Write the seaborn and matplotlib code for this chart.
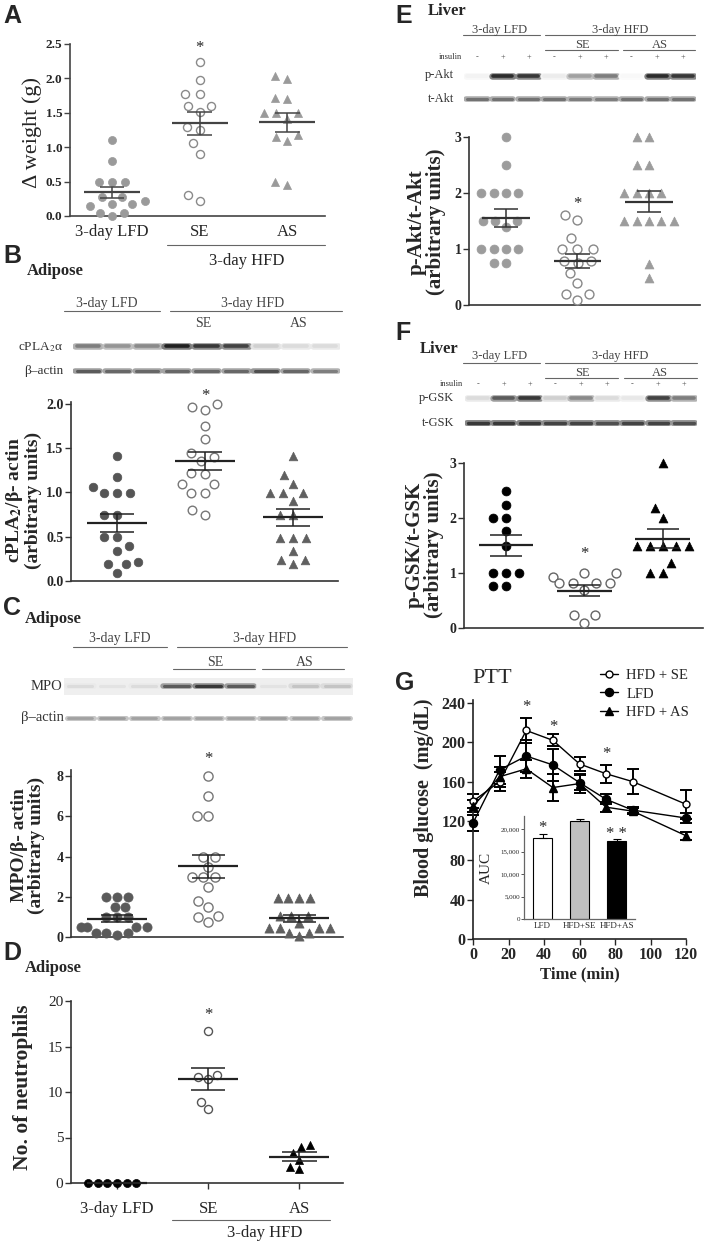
import numpy as np
import pandas as pd
import matplotlib
matplotlib.use('Agg')
import matplotlib.pyplot as plt
from matplotlib.lines import Line2D
from matplotlib.collections import PathCollection
import seaborn as sns

# ---------------- data ----------------
groups = ['LFD', 'SE', 'AS']
cat_labels = ['3-day LFD', 'SE', 'AS']

# A: delta weight (g)
a_lfd = [1.10, 0.80, 0.50, 0.50, 0.50, 0.28, 0.28, 0.22, 0.18, 0.15, 0.18, 0.05, 0.05, 0.00]
a_se = [2.24, 1.98, 1.78, 1.78, 1.60, 1.60, 1.51, 1.30, 1.25, 1.06, 0.90, 0.30, 0.22]
a_as = [2.04, 1.99, 1.71, 1.70, 1.49, 1.49, 1.49, 1.41, 1.18, 1.15, 1.09, 0.49, 0.45]

# B: cPLA2/beta-actin
b_lfd = [1.41, 1.17, 1.06, 0.99, 0.99, 0.99, 0.75, 0.75, 0.50, 0.50, 0.39, 0.34, 0.22, 0.19, 0.19, 0.09]
b_se = [2.00, 1.96, 1.93, 1.75, 1.60, 1.45, 1.40, 1.35, 1.22, 1.21, 1.10, 1.10, 0.99, 0.99, 0.80, 0.75]
b_as = [1.41, 1.20, 1.10, 0.99, 0.99, 0.99, 0.90, 0.75, 0.75, 0.48, 0.48, 0.48, 0.34, 0.24, 0.24, 0.19]

# C: MPO/beta-actin
c_lfd = [2.0, 2.0, 2.0, 1.5, 1.5, 1.0, 1.0, 1.0, 0.5, 0.5, 0.5, 0.5, 0.2, 0.2, 0.2, 0.1]
c_se = [8.0, 7.0, 6.0, 6.0, 4.0, 4.0, 3.5, 3.0, 3.0, 3.0, 2.5, 1.8, 1.5, 1.05, 1.0, 0.75]
c_as = [1.95, 1.95, 1.95, 1.95, 1.03, 1.03, 1.03, 0.70, 0.45, 0.45, 0.45, 0.45, 0.20, 0.20, 0.03]

# D: number of neutrophils
d_lfd = [0, 0, 0, 0, 0, 0]
d_se = [16.7, 11.9, 11.7, 11.4, 8.9, 8.1]
d_as = [4.2, 4.0, 3.35, 2.55, 1.75, 1.5]

# E: p-Akt/t-Akt
e_lfd = [3.0, 2.5, 2.0, 2.0, 2.0, 2.0, 1.5, 1.5, 1.5, 1.4, 1.0, 1.0, 1.0, 1.0, 0.75, 0.75]
e_se = [1.60, 1.52, 1.19, 1.0, 1.0, 1.0, 0.78, 0.78, 0.75, 0.58, 0.40, 0.20, 0.20, 0.09]
e_as = [3.0, 3.0, 2.5, 2.5, 2.0, 2.0, 2.0, 2.0, 1.5, 1.5, 1.5, 1.5, 1.5, 0.74, 0.48]

# F: p-GSK/t-GSK
f_lfd = [2.5, 2.23, 2.0, 2.0, 1.76, 1.5, 1.0, 1.0, 1.0, 0.76, 0.76]
f_se = [1.0, 1.0, 0.93, 0.82, 0.82, 0.82, 0.82, 0.70, 0.24, 0.24, 0.09]
f_as = [3.0, 2.18, 2.0, 1.5, 1.5, 1.5, 1.5, 1.5, 1.18, 1.0, 1.0]

# G: PTT
time_min = [0, 15, 30, 45, 60, 75, 90, 120]
g_se = [140, 160, 212, 202, 178, 168, 160, 137]
g_se_err = [7, 10, 13, 6, 7, 9, 13, 15]
g_lfd = [118, 172, 186, 177, 159, 142, 131, 123]
g_lfd_err = [8, 14, 16, 16, 8, 5, 3, 5]
g_as = [135, 165, 173, 154, 158, 134, 130, 105]
g_as_err = [6, 10, 9, 14, 10, 5, 3, 4]
auc_groups = ['LFD', 'HFD+SE', 'HFD+AS']
auc_vals = [18000, 21800, 17300]
auc_err = [800, 450, 400]

# western blot band intensities (0..1), 9 lanes
b_cpla2 = [0.55, 0.45, 0.50, 0.95, 0.85, 0.80, 0.20, 0.15, 0.15]
b_actin = [0.70, 0.65, 0.65, 0.65, 0.65, 0.65, 0.75, 0.65, 0.55]
c_mpo = [0.15, 0.12, 0.15, 0.70, 0.85, 0.70, 0.12, 0.25, 0.25]
c_actin = [0.40, 0.42, 0.40, 0.40, 0.40, 0.40, 0.42, 0.40, 0.40]
e_pakt = [0.05, 0.90, 0.85, 0.08, 0.40, 0.55, 0.03, 0.90, 0.85]
e_takt = [0.60, 0.60, 0.60, 0.60, 0.55, 0.55, 0.60, 0.60, 0.60]
f_pgsk = [0.15, 0.70, 0.85, 0.20, 0.50, 0.15, 0.10, 0.80, 0.55]
f_tgsk = [0.85, 0.85, 0.85, 0.80, 0.80, 0.75, 0.80, 0.80, 0.75]
insulin = ['-', '+', '+', '-', '+', '+', '-', '+', '+']

# ---------------- setup ----------------
W, H = 713, 1242
sns.set_style('ticks')
plt.rcParams['font.family'] = ['Liberation Serif', 'DejaVu Serif']
plt.rcParams['mathtext.fontset'] = 'stix'
fig = plt.figure(figsize=(W / 100, H / 100), dpi=100, facecolor='white')
SANS = ['Liberation Sans', 'DejaVu Sans']
scatter_axes = []


def add_ax(x0, y0, x1, y1):
    return fig.add_axes([x0 / W, 1 - y1 / H, (x1 - x0) / W, (y1 - y0) / H])


def ftext(x, y, s, **kw):
    return fig.text(x / W, 1 - y / H, s, **kw)


def fline(x0, x1, y, color='#666666', lw=0.8):
    fig.add_artist(Line2D([x0 / W, x1 / W], [1 - y / H, 1 - y / H], color=color, lw=lw))


def scatter_panel(box, series, styles, xlim, ylim, yticks, yfmt, ms, lc,
                  spine_c='#333333', tick_fs=9, tick_bold=True, mean_w=0.33, cap_w=0.18,
                  spread=1.4):
    ax = add_ax(*box)
    for i, (vals, (mk, fc, ec, lw)) in enumerate(zip(series, styles)):
        df = pd.DataFrame({'group': groups[i], 'value': vals})
        sns.swarmplot(data=df, x='group', y='value', order=groups, ax=ax,
                      marker=mk, color=fc, edgecolor=ec, linewidth=lw, size=ms * spread,
                      zorder=3, warn_thresh=1.0)
        m = np.mean(vals)
        s = np.std(vals, ddof=1) / np.sqrt(len(vals))
        ax.hlines(m, i - mean_w, i + mean_w, color=lc, lw=1.6, zorder=5)
        ax.vlines(i, m - s, m + s, color=lc, lw=1.1, zorder=5)
        ax.hlines([m - s, m + s], i - cap_w, i + cap_w, color=lc, lw=1.1, zorder=5)
    for c in ax.collections:
        c.set_clip_on(False)
    ax.set_xlim(*xlim)
    ax.set_ylim(*ylim)
    ax.set_yticks(yticks, [yfmt.format(t) for t in yticks],
                  fontweight='bold' if tick_bold else 'normal', fontsize=tick_fs)
    ax.set_xlabel('')
    ax.set_ylabel('')
    sns.despine(ax=ax)
    for sp in ['left', 'bottom']:
        ax.spines[sp].set_color(spine_c)
        ax.spines[sp].set_linewidth(1.2)
    ax.tick_params(axis='y', length=4, width=1, color=spine_c, pad=1.5)
    ax.set_xticks([])
    ax.patch.set_alpha(0)
    scatter_axes.append((ax, spread))
    return ax


def star(ax, x, y, s='*', fs=12):
    ax.annotate(s, (x, y), xytext=(0, -0.5 * fs), textcoords='offset points',
                ha='center', va='baseline', fontsize=fs, annotation_clip=False)


def blot(x0, x1, yc, intens, lw, h=12, bg=None):
    ax = add_ax(x0, yc - h / 2, x1, yc + h / 2)
    ax.set_xlim(-0.5, 8.5)
    ax.set_ylim(-1, 1)
    ax.set_xticks([])
    ax.set_yticks([])
    for sp in ax.spines.values():
        sp.set_visible(False)
    if bg:
        ax.set_facecolor(bg)
    else:
        ax.patch.set_alpha(0)
    for i, v in enumerate(intens):
        g = 1 - 0.55 * v
        ax.hlines(0, i - 0.42, i + 0.42, color=(g, g, g), lw=lw * 1.8, capstyle='round')
        g = 1 - 0.92 * v
        ax.hlines(0, i - 0.38, i + 0.38, color=(g, g, g), lw=lw, capstyle='round')
    return ax


def insulin_row(x0, x1, yc):
    ax = add_ax(x0, yc - 5, x1, yc + 5)
    ax.set_xlim(-0.5, 8.5)
    ax.set_ylim(-1, 1)
    ax.set_axis_off()
    for i, s in enumerate(insulin):
        ax.text(i, 0, s, ha='center', va='center', fontsize=6, color='#444444')


HDR = '#444444'

# ================= Panel A =================
ftext(3, 23, 'A', fontsize=18, fontweight='bold', family=SANS, va='baseline')
axA = scatter_panel((70, 44, 325, 216), [a_lfd, a_se, a_as],
                    [('o', '#9a9a9a', '#9a9a9a', 0.5), ('o', 'white', '#8a8a8a', 1.0),
                     ('^', '#9a9a9a', '#9a9a9a', 0.5)],
                    (-0.48, 2.43), (0, 2.5), [0, 0.5, 1.0, 1.5, 2.0, 2.5], '{:.1f}',
                    ms=5.8, lc='#444444', spine_c='#444444', tick_fs=9.5, mean_w=0.32, cap_w=0.14,
                    spread=1.4)
axA.set_xticks([0, 1, 2], cat_labels, fontsize=12)
axA.tick_params(axis='x', length=0, pad=6)
star(axA, 1, 2.51)
ftext(32, 133, 'Δ weight (g)', rotation=90, ha='center', va='center', fontsize=16)
fline(167, 325, 245)
ftext(247, 265, '3-day HFD', ha='center', va='baseline', fontsize=12)

# ================= Panel B =================
ftext(3, 263, 'B', fontsize=18, fontweight='bold', family=SANS, va='baseline')
ftext(27, 275, 'Adipose', fontsize=12, fontweight='bold', va='baseline')
ftext(107, 307, '3-day LFD', ha='center', va='baseline', fontsize=10, color=HDR)
fline(64, 160, 311)
ftext(253, 307, '3-day HFD', ha='center', va='baseline', fontsize=10, color=HDR)
fline(170, 342, 311)
ftext(203, 327, 'SE', ha='center', va='baseline', fontsize=10, color=HDR)
ftext(299, 327, 'AS', ha='center', va='baseline', fontsize=10, color=HDR)
ftext(63, 347, r'cPLA$_2$α', ha='right', va='center', fontsize=9.5, color='#333333')
ftext(63, 371, 'β–actin', ha='right', va='center', fontsize=9.5, color='#333333')
blot(73, 340, 346, b_cpla2, 2.6)
blot(73, 340, 371, b_actin, 2.2)
axB = scatter_panel((71, 402, 338, 581), [b_lfd, b_se, b_as],
                    [('o', '#555555', '#555555', 0.5), ('o', 'white', '#777777', 1.0),
                     ('^', '#606060', '#606060', 0.5)],
                    (-0.52, 2.51), (0, 2.02), [0, 0.5, 1.0, 1.5, 2.0], '{:.1f}',
                    ms=6.2, lc='#222222', tick_fs=10, mean_w=0.34, cap_w=0.19, spread=1.35)
star(axB, 1, 2.14)
ftext(23, 500, 'cPLA$_\\mathbf{2}$/β- actin\n(arbitrary units)', rotation=90, ha='center',
      va='center', fontsize=14, fontweight='bold', linespacing=0.95, multialignment='center')

# ================= Panel C =================
ftext(3, 615, 'C', fontsize=18, fontweight='bold', family=SANS, va='baseline')
ftext(25, 623, 'Adipose', fontsize=12, fontweight='bold', va='baseline')
ftext(120, 642, '3-day LFD', ha='center', va='baseline', fontsize=10, color=HDR)
fline(73, 167, 647)
ftext(265, 642, '3-day HFD', ha='center', va='baseline', fontsize=10, color=HDR)
fline(177, 347, 647)
ftext(215, 666, 'SE', ha='center', va='baseline', fontsize=10, color=HDR)
fline(173, 255, 669)
ftext(305, 666, 'AS', ha='center', va='baseline', fontsize=10, color=HDR)
fline(262, 344, 669)
ftext(62, 687, 'MPO', ha='right', va='center', fontsize=10.5, color='#333333')
ftext(64, 718, 'β–actin', ha='right', va='center', fontsize=10.5, color='#333333')
blot(64, 353, 686, c_mpo, 2.2, h=17, bg='#efefef')
blot(64, 353, 718, c_actin, 2.0)
axC = scatter_panel((71, 770, 343, 937), [c_lfd, c_se, c_as],
                    [('o', '#5a5a5a', '#5a5a5a', 0.5), ('o', 'white', '#777777', 1.0),
                     ('^', '#5f5f5f', '#5f5f5f', 0.5)],
                    (-0.505, 2.48), (0, 8.3), [0, 2, 4, 6, 8], '{:d}',
                    ms=6.6, lc='#222222', tick_fs=10, mean_w=0.33, cap_w=0.18, spread=1.05)
star(axC, 1, 9.05)
ftext(28, 845, 'MPO/β- actin\n(arbitrary units)', rotation=90, ha='center',
      va='center', fontsize=14, fontweight='bold', linespacing=0.95, multialignment='center')

# ================= Panel D =================
ftext(3, 960, 'D', fontsize=18, fontweight='bold', family=SANS, va='baseline')
ftext(25, 972, 'Adipose', fontsize=12, fontweight='bold', va='baseline')
axD = scatter_panel((71, 1001, 343, 1183), [d_lfd, d_se, d_as],
                    [('o', 'black', 'black', 0.5), ('o', 'white', '#555555', 1.0),
                     ('^', 'black', 'black', 0.5)],
                    (-0.505, 2.48), (0, 20), [0, 5, 10, 15, 20], '{:d}',
                    ms=5.8, lc='#222222', tick_fs=11, tick_bold=False, mean_w=0.33, cap_w=0.19,
                    spread=1.05)
axD.set_xticks([0, 1, 2], cat_labels, fontsize=12)
axD.tick_params(axis='x', length=4, width=1, color='#333333', pad=9)
star(axD, 1, 18.9)
ftext(23, 1087, 'No. of neutrophils', rotation=90, ha='center', va='center',
      fontsize=15.5, fontweight='bold')
fline(172, 330, 1220)
ftext(265, 1237, '3-day HFD', ha='center', va='baseline', fontsize=12)

# ================= Panel E =================
ftext(395, 23, 'E', fontsize=18, fontweight='bold', family=SANS, va='baseline')
ftext(428, 15, 'Liver', fontsize=12, fontweight='bold', va='baseline')
ftext(500, 33, '3-day LFD', ha='center', va='baseline', fontsize=9, color=HDR)
fline(463, 540, 35)
ftext(620, 33, '3-day HFD', ha='center', va='baseline', fontsize=9, color=HDR)
fline(545, 695, 35)
ftext(582, 48, 'SE', ha='center', va='baseline', fontsize=9, color=HDR)
fline(545, 618, 50)
ftext(660, 48, 'AS', ha='center', va='baseline', fontsize=9, color=HDR)
fline(623, 695, 50)
ftext(462, 57, 'insulin', ha='right', va='center', fontsize=6, color='#333333')
insulin_row(464, 696, 57)
ftext(454, 75, 'p-Akt', ha='right', va='center', fontsize=9, color='#333333')
ftext(454, 99, 't-Akt', ha='right', va='center', fontsize=9, color='#333333')
blot(464, 696, 76, e_pakt, 2.6)
blot(464, 696, 99, e_takt, 2.2)
axE = scatter_panel((469, 137, 700, 305), [e_lfd, e_se, e_as],
                    [('o', '#9c9c9c', '#9c9c9c', 0.5), ('o', 'white', '#888888', 1.0),
                     ('^', '#9c9c9c', '#9c9c9c', 0.5)],
                    (-0.517, 2.713), (0, 3.0), [0, 1, 2, 3], '{:d}',
                    ms=6.4, lc='#333333', tick_fs=10, mean_w=0.33, cap_w=0.17, spread=1.25)
star(axE, 1, 1.875)
ftext(426, 222, 'p-Akt/t-Akt\n(arbitrary units)', rotation=90, ha='center',
      va='center', fontsize=15, fontweight='bold', linespacing=0.95, multialignment='center')

# ================= Panel F =================
ftext(395, 340, 'F', fontsize=18, fontweight='bold', family=SANS, va='baseline')
ftext(420, 353, 'Liver', fontsize=12, fontweight='bold', va='baseline')
ftext(500, 359, '3-day LFD', ha='center', va='baseline', fontsize=9, color=HDR)
fline(463, 540, 363)
ftext(620, 359, '3-day HFD', ha='center', va='baseline', fontsize=9, color=HDR)
fline(545, 697, 363)
ftext(582, 376, 'SE', ha='center', va='baseline', fontsize=9, color=HDR)
fline(545, 618, 378)
ftext(660, 376, 'AS', ha='center', va='baseline', fontsize=9, color=HDR)
fline(624, 697, 378)
ftext(463, 384, 'insulin', ha='right', va='center', fontsize=6, color='#333333')
insulin_row(465, 697, 384)
ftext(454, 398, 'p-GSK', ha='right', va='center', fontsize=9, color='#333333')
ftext(454, 423, 't-GSK', ha='right', va='center', fontsize=9, color='#333333')
blot(465, 697, 398, f_pgsk, 2.6)
blot(465, 697, 423, f_tgsk, 2.4)
axF = scatter_panel((464, 463, 703, 628), [f_lfd, f_se, f_as],
                    [('o', 'black', 'black', 0.5), ('o', 'white', '#666666', 1.0),
                     ('^', 'black', 'black', 0.5)],
                    (-0.535, 2.51), (0, 3.0), [0, 1, 2, 3], '{:d}',
                    ms=6.4, lc='#222222', tick_fs=10, mean_w=0.35, cap_w=0.2, spread=1.3)
star(axF, 1, 1.42)
ftext(424, 545, 'p-GSK/t-GSK\n(arbitrary units)', rotation=90, ha='center',
      va='center', fontsize=15, fontweight='bold', linespacing=0.95, multialignment='center')

# ================= Panel G =================
ftext(395, 690, 'G', fontsize=18, fontweight='bold', family=SANS, va='baseline')
ftext(492, 683, 'PTT', ha='center', va='baseline', fontsize=16)
axG = add_ax(473, 700, 686, 939)
series_g = [(g_se, g_se_err, 'o', 'white', 5.0, 'HFD + SE'),
            (g_lfd, g_lfd_err, 'o', 'black', 5.8, 'LFD'),
            (g_as, g_as_err, '^', 'black', 6.0, 'HFD + AS')]
handles = []
for vals, errs, mk, mfc, msz, lab in series_g:
    sns.lineplot(x=time_min, y=vals, ax=axG, color='black', marker=mk, markerfacecolor=mfc,
                 markeredgecolor='black', markeredgewidth=1.0, markersize=msz, lw=1.0,
                 zorder=3, clip_on=False)
    axG.errorbar(time_min, vals, yerr=errs, fmt='none', ecolor='black', elinewidth=1.4,
                 capsize=4, capthick=1.4, zorder=2, clip_on=False)
    handles.append(Line2D([], [], color='black', marker=mk, markerfacecolor=mfc,
                          markeredgecolor='black', markersize=msz, lw=1.0))
axG.set_xlim(0, 120)
axG.set_ylim(0, 243)
axG.set_xticks(range(0, 121, 20), [str(t) for t in range(0, 121, 20)], fontweight='bold', fontsize=11.5)
axG.set_yticks(range(0, 241, 40), [str(t) for t in range(0, 241, 40)], fontweight='bold', fontsize=11.5)
sns.despine(ax=axG)
for sp in ['left', 'bottom']:
    axG.spines[sp].set_color('#222222')
    axG.spines[sp].set_linewidth(1.2)
axG.tick_params(length=4, width=1, pad=1.5)
axG.set_xlabel('')
axG.set_ylabel('')
axG.patch.set_alpha(0)
leg = axG.legend(handles, [s[5] for s in series_g], loc='upper left',
                 bbox_to_anchor=(600 / W, 1 - 669 / H), bbox_transform=fig.transFigure,
                 frameon=False, fontsize=10.5, handlelength=1.2, handletextpad=0.6,
                 labelspacing=0.35, borderpad=0, borderaxespad=0)
for t, y in zip([30, 45, 75], [240, 220, 193]):
    star(axG, t, y)
ftext(580, 978, 'Time (min)', ha='center', va='baseline', fontsize=12, fontweight='bold')
ftext(424, 798, 'Blood glucose  (mg/dL)', rotation=90, ha='center', va='center',
      fontsize=14.5, fontweight='bold')

# inset AUC
axI = add_ax(524, 816, 635, 919)
sns.barplot(x=auc_groups, y=auc_vals, hue=auc_groups, palette=['white', '#c0c0c0', 'black'],
            legend=False, edgecolor='black', linewidth=0.8, width=0.52, ax=axI)
axI.errorbar(range(3), auc_vals, yerr=[[0, 0, 0], auc_err], fmt='none', ecolor='black',
             elinewidth=0.8, capsize=3, capthick=0.8)
axI.set_xlim(-0.5, 2.5)
axI.set_ylim(0, 22900)
axI.set_yticks([0, 5000, 10000, 15000, 20000],
               ['0', '5,000', '10,000', '15,000', '20,000'], fontsize=5)
axI.set_xticks([0, 1, 2], auc_groups, fontsize=6.5)
axI.tick_params(axis='y', length=2, width=0.7, pad=1, color='#555555')
axI.tick_params(axis='x', length=0, pad=2)
sns.despine(ax=axI)
for sp in ['left', 'bottom']:
    axI.spines[sp].set_color('#666666')
    axI.spines[sp].set_linewidth(0.9)
axI.set_xlabel('')
axI.set_ylabel('')
axI.patch.set_alpha(0)
star(axI, 0, 21300)
star(axI, 2, 19800, s='* *')
ftext(486, 868, 'AUC', rotation=90, ha='center', va='center', fontsize=11)

# compute swarm layout with spacing, then freeze positions and shrink markers to true size
fig.canvas.draw()
for ax, spread in scatter_axes:
    for c in ax.collections:
        if isinstance(c, PathCollection) and 'draw' in c.__dict__:
            del c.__dict__['draw']
            c.set_sizes(np.asarray(c.get_sizes()) / spread ** 2)

fig.savefig('out.png', dpi=100, facecolor='white')
